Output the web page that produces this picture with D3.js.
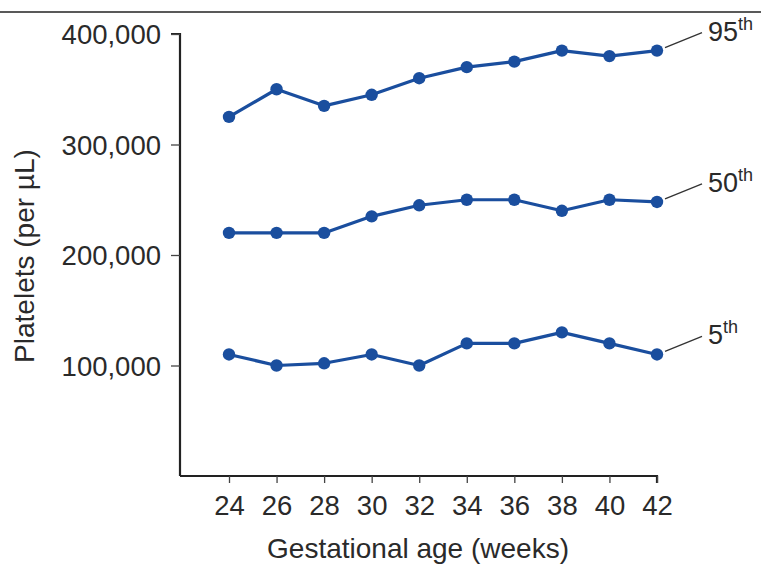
<!DOCTYPE html>
<html><head><meta charset="utf-8">
<script src="https://cdn.jsdelivr.net/npm/d3@7/dist/d3.min.js"></script>
<style>
html,body{margin:0;padding:0;background:#fff;}
text{font-family:"Liberation Sans",Arial,Helvetica,sans-serif;fill:#2a2a2a;}
</style></head>
<body><svg id="chart" width="761" height="564"></svg>
<script>
const weeks = [24, 26, 28, 30, 32, 34, 36, 38, 40, 42];
const p95 = [325000, 350000, 335000, 345000, 360000, 370000, 375000, 385000, 380000, 385000];
const p50 = [220000, 220000, 220000, 235000, 245000, 250000, 250000, 240000, 250000, 248000];
const p5  = [110000, 100000, 102000, 110000, 100000, 120000, 120000, 130000, 120000, 110000];
const seriesNames = ["95", "50", "5"];
const yTicks = [100000, 200000, 300000, 400000];
const xTitle = "Gestational age (weeks)";
const yTitle = "Platelets (per \u00b5L)";

const series = [p95, p50, p5];
const svg = d3.select("#chart");
const color = "#1a4e9e";

// top rule
svg.append("line").attr("x1", 0).attr("x2", 761).attr("y1", 12).attr("y2", 12)
  .attr("stroke", "#222").attr("stroke-width", 1.5);

const x = d3.scaleLinear().domain([24, 42]).range([229, 657]);
const y = d3.scaleLinear().domain([0, 400000]).range([476, 34]);
const axisLeftX = 180;

const fmt = d3.format(",");
const yAxis = svg.append("g").attr("transform", `translate(${axisLeftX},0)`)
  .call(d3.axisLeft(y).tickValues(yTicks).tickFormat(fmt).tickSize(9).tickSizeOuter(0));
const xAxis = svg.append("g").attr("transform", "translate(0,476)")
  .call(d3.axisBottom(x).tickValues(weeks).tickSize(7).tickSizeOuter(0));

[yAxis, xAxis].forEach(a => {
  a.select(".domain").attr("stroke", "#222").attr("stroke-width", 2.2);
  a.selectAll(".tick line").attr("stroke", "#444").attr("stroke-width", 1.3);
  a.selectAll(".tick text").attr("font-size", 27.5).attr("fill", "#2a2a2a")
    .attr("font-family", "Liberation Sans, Arial, sans-serif");
});
yAxis.selectAll(".tick text").attr("x", -19).attr("dy", "0.36em");
xAxis.selectAll(".tick text").attr("y", 17).attr("dy", "0.8em");
xAxis.select(".domain").attr("d", `M${axisLeftX},0H${x(42)}V7`);
yAxis.select(".domain").attr("d", `M-9,${y(400000)}H0V${y(0)}`);

svg.append("text").attr("x", 418).attr("y", 558).attr("text-anchor", "middle")
  .attr("font-size", 28).text(xTitle);
svg.append("text").attr("transform", "translate(34,256) rotate(-90)")
  .attr("text-anchor", "middle").attr("font-size", 28).text(yTitle);

const line = d3.line().x((d, i) => x(weeks[i])).y(d => y(d));
series.forEach((s, k) => {
  svg.append("path").datum(s).attr("d", line).attr("fill", "none")
    .attr("stroke", color).attr("stroke-width", 3.2).attr("stroke-linejoin", "round");
  svg.append("g").selectAll("circle").data(s).join("circle")
    .attr("cx", (d, i) => x(weeks[i])).attr("cy", d => y(d)).attr("r", 6.2)
    .attr("fill", color);
  const last = s[s.length - 1];
  const lx = x(42), ly = y(last);
  svg.append("line").attr("x1", lx + 8).attr("y1", ly - 3)
    .attr("x2", lx + 45).attr("y2", ly - 18)
    .attr("stroke", "#333").attr("stroke-width", 1.3);
  const t = svg.append("text").attr("x", lx + 51).attr("y", ly - 10).attr("font-size", 27);
  t.append("tspan").text(seriesNames[k]);
  t.append("tspan").attr("font-size", 18).attr("dy", -11).text("th");
});
</script></body></html>
